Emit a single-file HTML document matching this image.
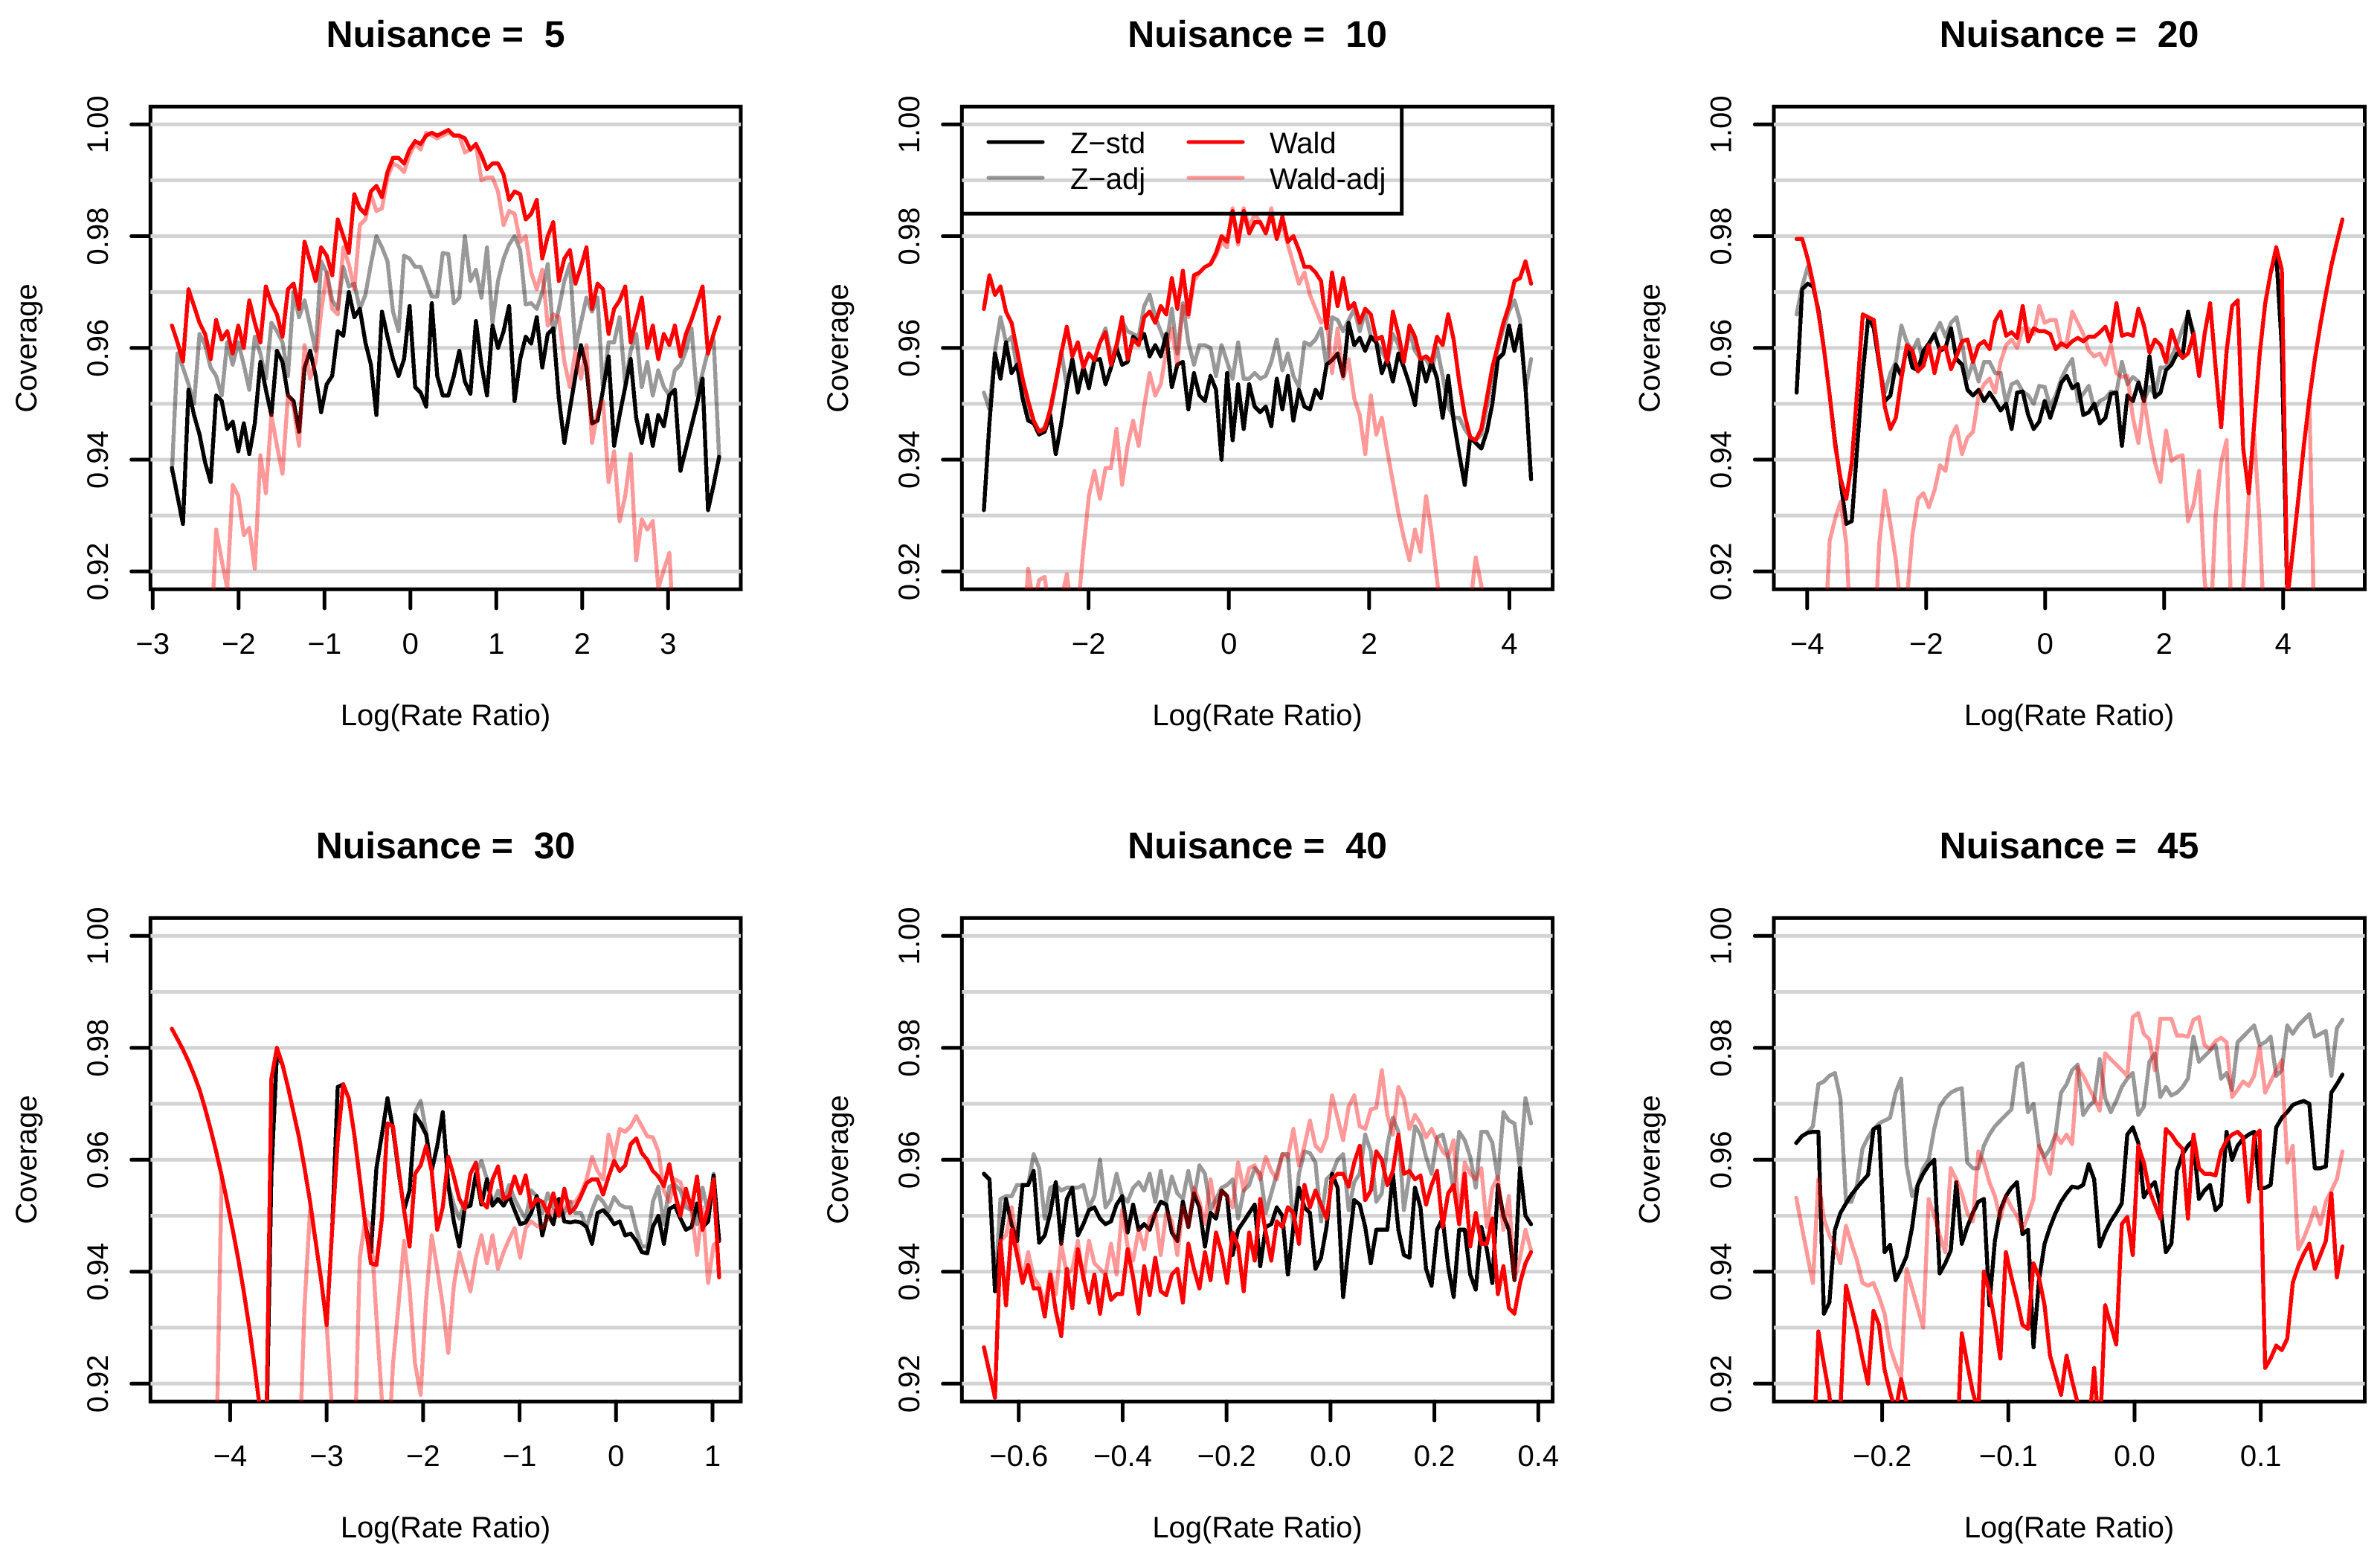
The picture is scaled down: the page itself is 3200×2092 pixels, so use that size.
<!DOCTYPE html>
<html lang="en">
<head>
<meta charset="utf-8">
<title>Coverage by Log(Rate Ratio)</title>
<style>
html,body{margin:0;padding:0;background:#fff;}
svg{display:block;}
text{font-family:"Liberation Sans",Arial,sans-serif;fill:#000;text-rendering:geometricPrecision;}
.title{font-size:50px;font-weight:bold;text-anchor:middle;white-space:pre;}
.axis-title,.tick-label{font-size:40px;text-anchor:middle;}
.legend-label{font-size:40px;}
</style>
</head>
<body>
<svg id="figure" xmlns="http://www.w3.org/2000/svg" width="3200" height="2092" viewBox="0 0 3200 2092">
<rect x="0" y="0" width="3200" height="2092" fill="#fff"/>
<g id="plots"></g>

<text class="title" x="599" y="63">Nuisance =  5</text>
<text class="title" x="1690.5" y="63">Nuisance =  10</text>
<text class="title" x="2782" y="63">Nuisance =  20</text>
<text class="title" x="599" y="1154">Nuisance =  30</text>
<text class="title" x="1690.5" y="1154">Nuisance =  40</text>
<text class="title" x="2782" y="1154">Nuisance =  45</text>

<text class="axis-title" x="599" y="975">Log(Rate Ratio)</text>
<text class="axis-title" x="1690.5" y="975">Log(Rate Ratio)</text>
<text class="axis-title" x="2782" y="975">Log(Rate Ratio)</text>
<text class="axis-title" x="599" y="2067">Log(Rate Ratio)</text>
<text class="axis-title" x="1690.5" y="2067">Log(Rate Ratio)</text>
<text class="axis-title" x="2782" y="2067">Log(Rate Ratio)</text>

<text class="axis-title" transform="translate(49,468) rotate(-90)">Coverage</text>
<text class="axis-title" transform="translate(1140,468) rotate(-90)">Coverage</text>
<text class="axis-title" transform="translate(2231.5,468) rotate(-90)">Coverage</text>
<text class="axis-title" transform="translate(49,1559) rotate(-90)">Coverage</text>
<text class="axis-title" transform="translate(1140,1559) rotate(-90)">Coverage</text>
<text class="axis-title" transform="translate(2231.5,1559) rotate(-90)">Coverage</text>

<g>
<path d="M1293.3 287.3H1884.7V143.3" fill="none" stroke="#000" stroke-width="5"/>
<line x1="1329" y1="191" x2="1402" y2="191" stroke="#000" stroke-width="5" stroke-linecap="round"/>
<text class="legend-label" x="1439" y="206">Z−std</text>
<line x1="1329" y1="239" x2="1402" y2="239" stroke="rgba(0,0,0,0.4)" stroke-width="5" stroke-linecap="round"/>
<text class="legend-label" x="1439" y="254">Z−adj</text>
<line x1="1598" y1="191" x2="1671" y2="191" stroke="#f00" stroke-width="5" stroke-linecap="round"/>
<text class="legend-label" x="1707" y="206">Wald</text>
<line x1="1598" y1="239" x2="1671" y2="239" stroke="rgba(255,0,0,0.4)" stroke-width="5" stroke-linecap="round"/>
<text class="legend-label" x="1707" y="254">Wald-adj</text>
</g>
</svg>

<script>
const yTicks = [0.92, 0.94, 0.96, 0.98, 1.00];
const yTickLabels = ["0.92", "0.94", "0.96", "0.98", "1.00"];
const gridLevels = [0.92, 0.93, 0.94, 0.95, 0.96, 0.97, 0.98, 0.99, 1.00];

const xLim5 = [-3.026, 3.846];
const xRange5 = [-2.776, 3.594];
const xTicks5 = [-3, -2, -1, 0, 1, 2, 3];
const xTickLabels5 = ["−3", "−2", "−1", "0", "1", "2", "3"];
const zStd5 = [.9385,.9335,.9285,.9525,.948,.9445,.9395,.936,.9515,.9505,
.9455,.9468,.9415,.9465,.941,.9465,.9575,.9525,.948,.9595,
.9575,.9515,.9505,.945,.9565,.9595,.955,.9485,.9535,.955,
.963,.9622,.97,.9655,.967,.961,.957,.948,.9665,.962,
.958,.955,.958,.9675,.953,.952,.9495,.968,.955,.9515,
.9515,.955,.9595,.954,.9518,.9648,.957,.9515,.964,.96,
.963,.9675,.9505,.958,.962,.9608,.9655,.9565,.9625,.9635,
.951,.943,.949,.955,.9605,.9565,.9465,.947,.9525,.9585,
.9425,.948,.953,.958,.9475,.943,.948,.9425,.948,.946,
.9515,.9525,.938,.942,.946,.95,.9545,.931,.9355,.9405];
const zAdj5 = [.938,.959,.9565,.9535,.95,.9625,.9605,.9565,.955,.9515,
.961,.957,.961,.957,.9525,.962,.959,.9545,.9645,.963,
.961,.955,.97,.9655,.9685,.964,.9595,.9755,.9735,.9685,
.967,.9745,.971,.9715,.967,.9695,.975,.98,.978,.9755,
.9665,.963,.9765,.976,.9745,.9745,.972,.9692,.9692,.977,
.9768,.968,.969,.98,.972,.974,.969,.978,.9645,.972,
.976,.9785,.98,.9775,.9678,.968,.967,.97,.975,.9625,
.967,.972,.975,.96,.9645,.969,.9665,.969,.9525,.961,
.961,.9655,.9535,.9595,.9625,.953,.9575,.9515,.956,.953,
.9515,.956,.957,.9595,.9635,.9515,.9555,.9595,.9615,.9405];
const wald5 = [.964,.961,.9576,.9705,.9675,.9645,.9625,.958,.965,.9615,
.963,.959,.964,.96,.9685,.9645,.961,.971,.968,.966,
.962,.9705,.9715,.967,.979,.9755,.972,.978,.9765,.973,
.983,.98,.977,.9875,.985,.984,.988,.989,.987,.9915,
.994,.994,.993,.9955,.997,.9965,.998,.9985,.998,.9985,
.999,.998,.998,.9975,.9955,.9965,.9945,.992,.993,.993,
.991,.9865,.988,.9875,.983,.984,.9865,.976,.98,.9825,
.972,.976,.9775,.9715,.9745,.978,.967,.9715,.9705,.9625,
.967,.9685,.971,.961,.965,.969,.96,.964,.958,.9625,
.9605,.964,.9585,.9625,.965,.968,.971,.959,.9625,.9655];
const waldAdj5 = [.905,.905,.905,.905,.905,.905,.905,.905,.9275,.922,
.917,.9355,.9335,.9265,.9278,.9205,.9408,.934,.948,.9425,
.9375,.9515,.9495,.9425,.9605,.9545,.9575,.9665,.9735,.967,
.966,.978,.975,.9705,.982,.983,.9875,.9845,.985,.9905,
.993,.9925,.9915,.9945,.9965,.9955,.9985,.998,.9975,.998,
.9985,.998,.998,.995,.9955,.9965,.99,.9905,.9905,.988,
.982,.9845,.984,.979,.98,.9735,.9705,.974,.964,.966,
.9655,.9575,.953,.9595,.9545,.9605,.943,.9485,.9505,.936,
.9415,.929,.9335,.941,.922,.9293,.9275,.929,.917,.9203,
.9233,.905,.905,.905,.905,.905,.905,.905,.905,.905];

const xLim10 = [-3.806, 4.617];
const xRange10 = [-3.492, 4.309];
const xTicks10 = [-2, 0, 2, 4];
const xTickLabels10 = ["−2", "0", "2", "4"];
const zStd10 = [.931,.9465,.959,.9545,.961,.9555,.957,.951,.947,.9465,
.9445,.945,.948,.941,.9465,.953,.958,.952,.9565,.9528,
.9578,.958,.9535,.9565,.96,.957,.9575,.962,.961,.9625,
.9585,.9605,.9585,.9625,.953,.957,.9575,.949,.9555,.9515,
.9505,.955,.9525,.94,.9555,.9435,.9535,.9455,.9535,.9495,
.9485,.9495,.946,.9545,.949,.955,.947,.9525,.9495,.949,
.9525,.951,.957,.9578,.959,.955,.9645,.9605,.9618,.9595,
.962,.961,.9555,.958,.954,.959,.9565,.9535,.9498,.958,
.954,.9575,.9545,.9475,.955,.947,.941,.9355,.944,.943,
.942,.945,.95,.958,.959,.964,.9595,.964,.953,.9365];
const zAdj10 = [.952,.949,.9595,.9655,.961,.962,.9565,.953,.9485,.9465,
.945,.9458,.9485,.9535,.9595,.953,.958,.953,.9565,.954,
.958,.961,.9635,.9585,.96,.9648,.963,.9625,.962,.9675,
.9695,.9655,.963,.9605,.967,.959,.968,.961,.957,.9605,
.9605,.96,.955,.9605,.9575,.9545,.961,.9545,.9545,.9555,
.9545,.955,.9575,.9615,.956,.959,.955,.953,.961,.9605,
.9615,.9635,.9565,.9655,.965,.963,.965,.967,.963,.9665,
.962,.961,.9595,.9575,.9625,.9605,.9578,.963,.9595,.958,
.958,.956,.96,.955,.9495,.9475,.9475,.9455,.944,.9435,
.9445,.9495,.955,.96,.9635,.9665,.9685,.965,.9525,.958];
const wald10 = [.967,.973,.9695,.971,.9665,.9645,.9595,.9545,.9505,.947,
.945,.9455,.949,.954,.959,.9638,.9585,.961,.9565,.959,
.9578,.961,.9628,.957,.9605,.9655,.958,.9615,.9605,.9655,
.9665,.9645,.9675,.966,.9725,.967,.9738,.966,.973,.9735,
.9745,.975,.977,.98,.979,.9845,.979,.9845,.9805,.9825,
.9825,.9805,.984,.9795,.9835,.979,.98,.9775,.9745,.9745,
.9735,.972,.9635,.9735,.9675,.9725,.967,.968,.9645,.967,
.966,.9615,.962,.9575,.9665,.9625,.9575,.964,.962,.958,
.9585,.9575,.962,.9605,.966,.9615,.954,.948,.944,.9435,
.9455,.951,.9565,.9605,.9645,.9675,.972,.9725,.9755,.9715];
const waldAdj10 = [.905,.905,.905,.905,.905,.905,.905,.905,.9205,.914,
.9185,.919,.912,.912,.915,.9195,.912,.913,.924,.9335,
.938,.933,.9385,.9385,.9455,.9355,.9425,.947,.9425,.9495,
.9555,.9515,.9535,.9595,.9635,.957,.9675,.9655,.972,.9735,
.9745,.975,.9765,.979,.978,.985,.9785,.985,.9815,.984,
.9825,.9805,.985,.9795,.9825,.9785,.975,.9715,.9735,.9695,
.967,.9645,.9655,.9555,.9635,.9545,.958,.951,.948,.941,
.9515,.9445,.9475,.9415,.936,.9305,.926,.922,.9275,.9235,
.9335,.927,.9185,.91,.905,.908,.91,.912,.914,.9225,
.9175,.91,.905,.905,.905,.905,.905,.905,.905,.905];

const xLim20 = [-4.560, 5.372];
const xRange20 = [-4.177, 4.997];
const xTicks20 = [-4, -2, 0, 2, 4];
const xTickLabels20 = ["−4", "−2", "0", "2", "4"];
const zStd20 = [.952,.9705,.9715,.971,.9665,.9595,.9515,.943,.936,.9285,
.929,.9425,.9555,.9655,.9635,.957,.9505,.9515,.957,.955,
.9605,.9565,.956,.9595,.9608,.9625,.9595,.96,.9635,.958,
.957,.9525,.9515,.9525,.9505,.952,.9505,.9488,.95,.9455,
.952,.9522,.948,.9455,.9468,.9505,.9475,.9505,.9538,.955,
.9528,.9535,.948,.9485,.95,.9465,.9475,.9518,.952,.9425,
.9515,.9505,.9538,.9505,.9585,.9512,.952,.956,.957,.959,
.9585,.9665,.962,.955,.9625,.968,.9565,.9458,.9595,.9675,
.9685,.942,.934,.9465,.959,.968,.9735,.977,.96,.915,
.9238,.933,.9425,.9508,.958,.9642,.9697,.9748,.979,.983];
const zAdj20 = [.966,.971,.9745,.971,.9665,.9595,.9515,.943,.936,.9285,
.929,.9425,.9555,.9655,.9635,.957,.952,.9555,.9575,.964,
.961,.9595,.9615,.957,.9605,.9625,.9645,.962,.9645,.9655,
.961,.9545,.9575,.954,.9575,.9575,.9555,.9555,.95,.9535,
.954,.9522,.9515,.95,.9532,.953,.9495,.9515,.9545,.9565,
.958,.9505,.9518,.9532,.949,.9505,.951,.9522,.952,.9575,
.9535,.9548,.954,.9505,.953,.9515,.9565,.9565,.9585,.9605,
.9635,.966,.963,.955,.9625,.968,.9565,.9458,.9595,.9675,
.9685,.942,.934,.9465,.959,.968,.9735,.977,.96,.915,
.9238,.933,.9425,.9508,.958,.9642,.9697,.9748,.979,.983];
const wald20 = [.9795,.9795,.976,.9715,.966,.9595,.9515,.9425,.9365,.933,
.9395,.9525,.966,.9655,.965,.9575,.9495,.9455,.9475,.9545,
.9605,.9595,.9558,.9568,.9605,.9555,.9598,.9602,.9562,.9585,
.9612,.9615,.9575,.9605,.9612,.9598,.9648,.9665,.9622,.9628,
.9618,.9675,.9612,.9635,.963,.963,.9625,.9598,.9608,.9602,
.9612,.9618,.9612,.962,.962,.9628,.9638,.9612,.968,.9622,
.9625,.9622,.967,.964,.9592,.9615,.9605,.9575,.9632,.9602,
.9582,.959,.9625,.955,.9625,.968,.9565,.9458,.9595,.9675,
.9685,.942,.934,.9465,.959,.968,.9735,.978,.974,.915,
.9238,.933,.9425,.9508,.958,.9642,.9697,.9748,.979,.983];
const waldAdj20 = [.905,.905,.905,.905,.905,.905,.9255,.9295,.9325,.925,
.905,.905,.905,.905,.905,.925,.9345,.9285,.922,.912,
.915,.9265,.933,.934,.9315,.9345,.939,.938,.944,.946,
.941,.944,.945,.9515,.9535,.9545,.952,.9575,.9605,.9615,
.96,.9635,.9635,.9625,.9675,.9645,.965,.965,.9605,.961,
.9665,.9645,.9625,.9595,.9585,.959,.957,.9605,.9555,.9548,
.955,.9475,.943,.951,.9445,.9395,.936,.9452,.9398,.9405,
.9408,.929,.932,.938,.9185,.909,.93,.9395,.9435,.905,
.91,.917,.9335,.9445,.9285,.905,.905,.905,.905,.915,
.9238,.933,.9425,.9508,.905,.905,.905,.905,.905,.905];

const xLim30 = [-4.826, 1.293];
const xRange30 = [-4.604, 1.069];
const xTicks30 = [-4, -3, -2, -1, 0, 1];
const xTickLabels30 = ["−4", "−3", "−2", "−1", "0", "1"];
const zStd30 = [.9834,.9816,.9797,.9776,.9752,.9725,.9692,.9655,.9615,.9572,
.9525,.9475,.9423,.9365,.93,.9228,.915,.905,.9575,.979,
.977,.973,.9685,.964,.9585,.9525,.9455,.9385,.9305,.9475,
.973,.9735,.971,.9645,.9565,.9485,.9435,.9585,.9645,.971,
.9655,.958,.951,.9545,.968,.9665,.9645,.958,.9625,.9685,
.9555,.949,.9445,.9515,.9518,.9575,.952,.9565,.9518,.953,
.9518,.9535,.951,.9485,.9488,.9505,.9535,.9465,.9505,.9485,
.953,.949,.9488,.949,.9488,.948,.945,.9505,.951,.95,
.9485,.949,.9465,.9468,.9455,.9435,.9433,.948,.95,.945,
.9512,.9518,.9495,.9475,.948,.9522,.948,.949,.9572,.9455];
const zAdj30 = [.9834,.9816,.9797,.9776,.9752,.9725,.9692,.9655,.9615,.9572,
.9525,.9475,.9423,.9365,.93,.9228,.915,.905,.9575,.979,
.977,.973,.9685,.964,.9585,.9525,.9455,.9385,.9305,.9475,
.973,.9735,.971,.9645,.9565,.9485,.9435,.9585,.9645,.971,
.9655,.958,.951,.9545,.9685,.9705,.965,.958,.9625,.9685,
.9555,.952,.9495,.9525,.9518,.9575,.9598,.9565,.952,.9545,
.9525,.9555,.953,.951,.9495,.9545,.9535,.9505,.954,.9515,
.9505,.9505,.9525,.9505,.9505,.948,.951,.9535,.9525,.9508,
.9533,.952,.9515,.9515,.9475,.9445,.9445,.9525,.9552,.9485,
.9552,.9555,.9545,.9515,.951,.9485,.955,.9505,.9575,.9455];
const wald30 = [.9834,.9816,.9797,.9776,.9752,.9725,.9692,.9655,.9615,.9572,
.9525,.9475,.9423,.9365,.93,.9228,.915,.905,.9745,.98,
.977,.973,.9685,.964,.9585,.9525,.9455,.9385,.9305,.9475,
.9635,.9735,.971,.9645,.9565,.9485,.9415,.9412,.9495,.9665,
.966,.9585,.951,.9445,.9575,.959,.9625,.958,.9475,.9515,
.9605,.957,.953,.9512,.9575,.9595,.9525,.9515,.9565,.9588,
.953,.9535,.957,.954,.9572,.9515,.953,.9525,.9505,.954,
.95,.9548,.9505,.9515,.9535,.9558,.9565,.9565,.9538,.957,
.9598,.958,.959,.9628,.9638,.9612,.96,.958,.957,.9553,
.9592,.954,.95,.9548,.9512,.957,.9475,.9515,.9565,.939];
const waldAdj30 = [.905,.905,.905,.905,.905,.905,.905,.905,.905,.9572,
.9525,.9475,.9423,.9365,.93,.9228,.915,.905,.905,.905,
.905,.905,.905,.905,.934,.951,.9455,.9385,.9305,.915,
.905,.905,.905,.905,.9425,.9495,.948,.932,.917,.905,
.9235,.934,.9455,.937,.9235,.918,.935,.9465,.9405,.934,
.9255,.9375,.9435,.94,.9365,.9425,.9465,.9415,.9465,.9405,
.9435,.9458,.9478,.9425,.9478,.949,.9482,.9478,.9495,.951,
.9505,.9515,.9525,.9525,.954,.9565,.9605,.958,.9565,.9645,
.9605,.9655,.965,.966,.9678,.966,.9642,.964,.9615,.9545,
.9525,.9565,.956,.953,.951,.943,.9515,.938,.9448,.9455];

const xLim40 = [-0.7094, 0.4276];
const xRange40 = [-0.667, 0.386];
const xTicks40 = [-0.6, -0.4, -0.2, 0, 0.2, 0.4];
const xTickLabels40 = ["−0.6", "−0.4", "−0.2", "0.0", "0.2", "0.4"];
const zStd40 = [.9575,.9565,.9365,.9455,.953,.9485,.9455,.9555,.9555,.958,
.9452,.9465,.9505,.956,.945,.953,.955,.9465,.9485,.951,
.9515,.9495,.9485,.949,.952,.9535,.947,.952,.9475,.9485,
.9475,.9505,.9525,.952,.947,.9455,.9525,.948,.954,.9515,
.9445,.9505,.9495,.9545,.9535,.943,.9475,.949,.9505,.952,
.941,.948,.9485,.9515,.95,.9395,.948,.955,.9515,.9505,
.9405,.9425,.948,.9575,.955,.9355,.9445,.9528,.952,.948,
.9415,.9475,.9475,.9475,.9575,.9475,.943,.9425,.955,.9515,
.9405,.9375,.9475,.9495,.941,.9355,.9475,.9475,.9395,.9368,
.948,.944,.938,.9555,.95,.9475,.9385,.9585,.95,.9485];
const zAdj40 = [.9575,.9565,.9365,.953,.9535,.9535,.9555,.9555,.9555,.961,
.9585,.9495,.955,.9555,.9545,.955,.955,.955,.9555,.9515,
.9535,.96,.9515,.953,.9575,.9535,.9525,.955,.956,.9545,
.9575,.9525,.958,.9525,.957,.954,.953,.958,.953,.959,
.9575,.951,.953,.955,.9555,.9565,.9495,.9545,.9555,.9585,
.9575,.9505,.954,.9575,.961,.961,.9475,.9575,.9615,.9612,
.9595,.949,.9565,.9575,.96,.961,.951,.956,.9575,.9645,
.9615,.9525,.954,.9625,.9675,.965,.951,.9575,.966,.9645,
.9605,.9575,.964,.9645,.9605,.9545,.965,.9635,.9605,.955,
.965,.965,.963,.9565,.9685,.967,.9665,.9585,.971,.9665];
const wald40 = [.9265,.922,.9175,.9455,.934,.9475,.943,.938,.9412,.937,
.937,.932,.9395,.933,.9285,.9405,.9335,.944,.939,.9345,
.9395,.9325,.9395,.935,.936,.936,.944,.939,.9325,.941,
.9358,.9425,.9365,.9358,.9395,.9405,.9345,.945,.9405,.937,
.9435,.9385,.947,.9435,.938,.947,.9445,.9365,.947,.942,
.953,.947,.942,.949,.948,.9515,.9505,.945,.9555,.9515,
.9545,.952,.9495,.9565,.9575,.9575,.9552,.9595,.9625,.9528,
.9545,.9615,.96,.9555,.958,.9645,.9575,.958,.9565,.9572,
.952,.9555,.958,.948,.954,.9555,.9485,.9575,.9445,.9505,
.945,.945,.9495,.936,.941,.9335,.9325,.938,.9415,.9435];
const waldAdj40 = [.9265,.922,.9175,.9455,.9465,.9515,.945,.9385,.9435,.939,
.9375,.934,.94,.936,.945,.9395,.9405,.9455,.9385,.9455,
.9415,.9405,.9395,.945,.9395,.951,.9445,.942,.9475,.944,
.9495,.9505,.943,.9505,.949,.943,.9515,.948,.955,.9525,
.9485,.9565,.9505,.9545,.9535,.9515,.9595,.9545,.9585,.959,
.9565,.9605,.958,.9565,.961,.9605,.9655,.959,.9625,.967,
.9625,.9615,.964,.9715,.9675,.9635,.9695,.9715,.966,.9655,
.969,.9693,.976,.968,.9645,.973,.971,.9655,.968,.9665,
.964,.9655,.9635,.9615,.9605,.9635,.9495,.9595,.9575,.9565,
.9585,.948,.955,.957,.9475,.9535,.9385,.9425,.9475,.9438];

const xLim45 = [-0.2858, 0.1824];
const xRange45 = [-0.268, 0.1647];
const xTicks45 = [-0.2, -0.1, 0, 0.1];
const xTickLabels45 = ["−0.2", "−0.1", "0.0", "0.1"];
const zStd45 = [.963,.9642,.9648,.965,.965,.9325,.9345,.9475,.9505,.9522,
.9538,.955,.9562,.9573,.9655,.966,.9435,.9448,.9385,.9405,
.9428,.948,.9555,.9575,.959,.96,.9397,.9415,.9438,.956,
.945,.948,.9505,.9525,.953,.934,.9455,.951,.9535,.955,
.956,.9467,.9475,.9265,.9385,.945,.948,.9505,.9525,.954,
.9552,.955,.9555,.9592,.9565,.9445,.947,.949,.9505,.9522,
.9645,.9658,.963,.9533,.955,.956,.9518,.9435,.945,.958,
.961,.9625,.9635,.953,.9545,.9555,.951,.952,.965,.96,
.9625,.9638,.9645,.965,.9548,.955,.9555,.9658,.9675,.9685,
.9698,.9702,.9705,.97,.9585,.9585,.9588,.972,.9735,.9752];
const zAdj45 = [.963,.9642,.9648,.966,.9735,.974,.975,.9755,.971,.9525,
.9525,.9555,.962,.964,.9655,.9665,.967,.9675,.972,.9745,
.959,.9535,.9555,.9585,.96,.9655,.9695,.971,.972,.9725,
.9728,.9595,.9585,.9585,.9625,.9645,.966,.967,.968,.969,
.9765,.9772,.9685,.97,.9625,.9605,.962,.9645,.972,.9735,
.976,.977,.968,.9695,.9705,.978,.971,.9685,.9705,.973,
.9745,.9755,.968,.9695,.9775,.979,.9712,.973,.9715,.972,
.973,.9745,.982,.9775,.9785,.9795,.9805,.9745,.9755,.9725,
.981,.982,.983,.984,.9805,.981,.982,.975,.976,.984,
.9825,.984,.985,.986,.982,.9825,.983,.975,.9835,.985];
const wald45 = [.905,.905,.905,.905,.9293,.9235,.918,.905,.9155,.9375,
.9335,.9295,.9245,.92,.933,.9305,.9225,.9185,.915,.9208,
.9165,.905,.905,.905,.905,.905,.905,.905,.905,.905,
.929,.9235,.9185,.915,.94,.9365,.931,.9245,.9435,.939,
.935,.9305,.9298,.9415,.939,.934,.925,.9215,.918,.925,
.9205,.9165,.905,.912,.9228,.91,.934,.9305,.927,.9485,
.9498,.943,.9625,.9595,.9545,.952,.9495,.9655,.9645,.963,
.962,.9495,.9645,.9585,.9575,.9575,.9572,.9615,.9635,.9645,
.965,.964,.9525,.964,.9652,.9228,.9245,.9268,.926,.928,
.938,.941,.9432,.945,.9405,.943,.9455,.954,.939,.9445];
const waldAdj45 = [.9532,.948,.943,.938,.9565,.9495,.9465,.9445,.9415,.9482,
.945,.942,.938,.9375,.938,.9355,.9325,.9265,.9235,.921,
.9405,.937,.9335,.93,.953,.95,.9465,.9435,.9585,.9565,
.954,.9505,.949,.9615,.9595,.956,.9535,.9495,.9535,.9515,
.95,.9475,.95,.953,.9625,.96,.9575,.9645,.963,.9645,
.9628,.9765,.975,.973,.971,.9688,.979,.978,.977,.976,
.975,.9855,.9862,.9825,.9815,.976,.9852,.9852,.9852,.9822,
.9822,.982,.985,.9855,.9805,.9798,.9812,.9818,.981,.9712,
.9725,.974,.9732,.975,.9802,.972,.974,.976,.9778,.9595,
.9625,.944,.946,.9485,.9515,.9485,.9525,.9545,.9565,.9615];

const NS = "http://www.w3.org/2000/svg";
const root = document.getElementById("plots");

const layout = [
  {id:"5",  left:202.3,  right:996,    top:143.3,  bottom:792.3,  y100:167.3,  y92:768.3,  tickY:879},
  {id:"10", left:1293.3, right:2087.6, top:143.3,  bottom:792.3,  y100:167.3,  y92:768.3,  tickY:879},
  {id:"20", left:2385,   right:3179.5, top:143.3,  bottom:792.3,  y100:167.3,  y92:768.3,  tickY:879},
  {id:"30", left:202.3,  right:996,    top:1234.3, bottom:1884.3, y100:1258.3, y92:1860.3, tickY:1971},
  {id:"40", left:1293.3, right:2087.6, top:1234.3, bottom:1884.3, y100:1258.3, y92:1860.3, tickY:1971},
  {id:"45", left:2385,   right:3179.5, top:1234.3, bottom:1884.3, y100:1258.3, y92:1860.3, tickY:1971}
];
const panelData = {
  "5":  {xLim:xLim5,  xRange:xRange5,  xTicks:xTicks5,  xLabels:xTickLabels5,  zStd:zStd5,  zAdj:zAdj5,  wald:wald5,  waldAdj:waldAdj5},
  "10": {xLim:xLim10, xRange:xRange10, xTicks:xTicks10, xLabels:xTickLabels10, zStd:zStd10, zAdj:zAdj10, wald:wald10, waldAdj:waldAdj10},
  "20": {xLim:xLim20, xRange:xRange20, xTicks:xTicks20, xLabels:xTickLabels20, zStd:zStd20, zAdj:zAdj20, wald:wald20, waldAdj:waldAdj20},
  "30": {xLim:xLim30, xRange:xRange30, xTicks:xTicks30, xLabels:xTickLabels30, zStd:zStd30, zAdj:zAdj30, wald:wald30, waldAdj:waldAdj30},
  "40": {xLim:xLim40, xRange:xRange40, xTicks:xTicks40, xLabels:xTickLabels40, zStd:zStd40, zAdj:zAdj40, wald:wald40, waldAdj:waldAdj40},
  "45": {xLim:xLim45, xRange:xRange45, xTicks:xTicks45, xLabels:xTickLabels45, zStd:zStd45, zAdj:zAdj45, wald:wald45, waldAdj:waldAdj45}
};
const seriesStyles = [
  {key:"zStd",    stroke:"#000"},
  {key:"zAdj",    stroke:"rgba(0,0,0,0.4)"},
  {key:"wald",    stroke:"#f00"},
  {key:"waldAdj", stroke:"rgba(255,0,0,0.4)"}
];

function make(tag, attrs, parent) {
  const el = document.createElementNS(NS, tag);
  for (const k in attrs) el.setAttribute(k, attrs[k]);
  parent.appendChild(el);
  return el;
}

layout.forEach(function (box) {
  const d = panelData[box.id];
  const xScale = function (v) {
    return box.left + (v - d.xLim[0]) / (d.xLim[1] - d.xLim[0]) * (box.right - box.left);
  };
  const yScale = function (v) {
    return box.y100 + (1 - v) / 0.08 * (box.y92 - box.y100);
  };

  const panel = make("g", {}, root);
  
  

  const clip = make("clipPath", {id: "clip-" + box.id}, panel);
  make("rect", {x: box.left, y: box.top, width: box.right - box.left, height: box.bottom - box.top}, clip);

  const frame = make("rect", {x: box.left, y: box.top, width: box.right - box.left, height: box.bottom - box.top, fill: "none", stroke: "#000", "stroke-width": 5}, panel);
  
  

  yTicks.forEach(function (v, i) {
    const py = yScale(v);
    const tick = make("line", {x1: box.left - 25.6, x2: box.left, y1: py, y2: py, stroke: "#000", "stroke-width": 5, "stroke-linecap": "round"}, panel);
    
    
    const label = make("text", {"class": "tick-label", transform: "translate(" + (box.left - 57.3) + "," + py + ") rotate(-90)"}, panel);
    
    
    label.textContent = yTickLabels[i];
  });

  d.xTicks.forEach(function (v, i) {
    const px = xScale(v);
    const tick = make("line", {x1: px, x2: px, y1: box.bottom, y2: box.bottom + 25.6, stroke: "#000", "stroke-width": 5, "stroke-linecap": "round"}, panel);
    
    
    const label = make("text", {"class": "tick-label", x: px, y: box.tickY}, panel);
    
    
    label.textContent = d.xLabels[i];
  });

  const clipped = make("g", {"clip-path": "url(#clip-" + box.id + ")"}, panel);
  
  

  gridLevels.forEach(function (v) {
    const py = yScale(v);
    const grid = make("line", {x1: box.left, x2: box.right, y1: py, y2: py, stroke: "#d3d3d3", "stroke-width": 5}, clipped);
    
    
  });

  seriesStyles.forEach(function (style) {
    const values = d[style.key];
    const n = values.length - 1;
    const xAt = function (i) {
      return d.xRange[0] + (d.xRange[1] - d.xRange[0]) * i / n;
    };
    const pts = values.map(function (v, i) {
      return xScale(xAt(i)).toFixed(1) + "," + yScale(v).toFixed(1);
    }).join(" ");
    const line = make("polyline", {points: pts, fill: "none", stroke: style.stroke, "stroke-width": 5.4, "stroke-linejoin": "round", "stroke-linecap": "round", "shape-rendering": "crispEdges"}, clipped);
    
    
  });
});
</script>
</body>
</html>
